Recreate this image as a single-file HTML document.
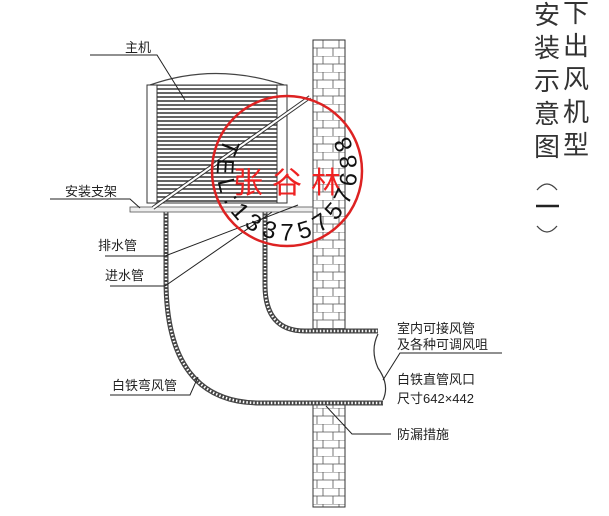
<!DOCTYPE html>
<html><head><meta charset="utf-8"><style>
html,body{margin:0;padding:0;background:#fff;}
svg{display:block;}
text{font-family:"Liberation Sans","Noto Sans CJK SC",sans-serif;}
</style></head><body>
<svg width="609" height="516" viewBox="0 0 609 516" xmlns="http://www.w3.org/2000/svg">
<defs>
<pattern id="brick" width="32" height="16" patternUnits="userSpaceOnUse" x="313" y="40">
<rect width="32" height="16" fill="#fff"/>
<path d="M0 0H32M0 8H32M10 0V8M26 0V8M4 8V16M20 8V16" stroke="#555" stroke-width="0.8" fill="none"/>
</pattern>
<pattern id="louv" width="4" height="4" patternUnits="userSpaceOnUse">
<rect width="4" height="4" fill="#fff"/><line x1="0" y1="1" x2="4" y2="1" stroke="#333" stroke-width="1.5"/>
</pattern>
</defs>

<!-- wall -->
<rect x="313" y="40" width="32" height="467" fill="url(#brick)" stroke="#333"/>

<!-- duct -->
<path d="M166 212 V280 Q166 403 260 403 H383 Q392 390 385 375 Q372 355 378 331 H305 Q265 331 265 290 V212 Z" fill="#fff" stroke="none"/>
<path d="M166 212 V280 Q166 403 260 403 H383" fill="none" stroke="#444" stroke-width="5"/>
<path d="M166 212 V280 Q166 403 260 403 H383" fill="none" stroke="#fff" stroke-width="2.5" stroke-dasharray="1.5 2"/>
<path d="M265 212 V285 Q265 331 305 331 H378" fill="none" stroke="#444" stroke-width="5"/>
<path d="M265 212 V285 Q265 331 305 331 H378" fill="none" stroke="#fff" stroke-width="2.5" stroke-dasharray="1.5 2"/>
<path d="M378 334 Q370 350 378 368 Q390 385 383 400" fill="none" stroke="#333" stroke-width="1.2"/>

<!-- unit -->
<path d="M150 85 Q215 62 284 85" fill="none" stroke="#444" stroke-width="1.2"/>
<rect x="147" y="85" width="140" height="118" fill="url(#louv)" stroke="#333"/>
<rect x="147" y="85" width="10" height="118" fill="#fff" stroke="#333"/>
<rect x="277" y="85" width="10" height="118" fill="#fff" stroke="#333"/>
<rect x="130" y="207" width="183" height="5" fill="#eee" stroke="#555" stroke-width="0.8"/>
<line x1="153" y1="208" x2="310" y2="97" stroke="#333" stroke-width="4"/>
<line x1="153" y1="208" x2="310" y2="97" stroke="#fff" stroke-width="2"/>

<!-- labels -->
<g fill="#222" font-size="13">
<text x="125" y="52">主机</text>
<text x="65" y="196">安装支架</text>
<text x="98" y="250">排水管</text>
<text x="105" y="280">进水管</text>
<text x="112" y="390">白铁弯风管</text>
<text x="397" y="333">室内可接风管</text>
<text x="397" y="349">及各种可调风咀</text>
<text x="397" y="384">白铁直管风口</text>
<text x="397" y="403">尺寸642×442</text>
<text x="397" y="439">防漏措施</text>
</g>
<g stroke="#222" stroke-width="1" fill="none">
<path d="M90 55 H157 L185 100"/>
<path d="M50 199 H130 L140 208"/>
<path d="M105 256 H165 L298 205"/>
<path d="M110 286 H165 L272 212"/>
<path d="M110 395 H190 L198 377"/>
<path d="M502 353 H400 L383 380"/>
<path d="M391 434 H352 L326 406"/>
</g>

<!-- right vertical title -->
<g font-size="26" fill="#333">
<text x="534" y="24">安</text><text x="534" y="57">装</text><text x="534" y="90">示</text><text x="534" y="123">意</text><text x="534" y="156">图</text>
<text x="563" y="22">下</text><text x="563" y="55">出</text><text x="563" y="88">风</text><text x="563" y="121">机</text><text x="563" y="154">型</text>
</g>
<path d="M537 190 Q547 178 557 190" fill="none" stroke="#444" stroke-width="1.3"/>
<line x1="536" y1="206" x2="559" y2="206" stroke="#222" stroke-width="2.5"/>
<path d="M537 226 Q547 238 557 226" fill="none" stroke="#444" stroke-width="1.3"/>

<!-- stamp -->
<circle cx="287" cy="171" r="75" fill="none" stroke="#d22" stroke-width="2.5"/>
<text x="233" y="193" font-size="30" fill="#e22" font-family="'Noto Serif CJK SC',serif" textLength="108">张谷林</text>
<path id="arc" d="M225 138 A70 70 0 1 0 349 138" fill="none"/>
<text font-size="24" fill="#111"><textPath href="#arc" textLength="290">TEL:13375757688</textPath></text>
</svg>
</body></html>
